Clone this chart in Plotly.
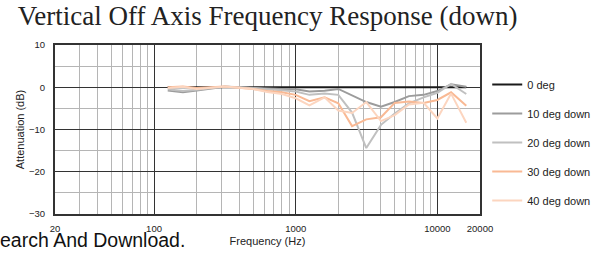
import plotly.graph_objects as go

# Data
freqs = [125, 160, 200, 250, 315, 400, 500, 630, 800, 1000, 1250, 1600,
         2000, 2500, 3150, 4000, 5000, 6300, 8000, 10000, 12500, 16000]
deg0 = [0.0] * len(freqs)
deg10 = [-0.8, -1.2, -0.8, -0.3, 0.1, 0.0, -0.2, -0.3, -0.4, -0.5, -1.0, -0.8,
         -0.4, -2.0, -3.5, -4.6, -3.5, -2.1, -1.8, -0.9, 0.7, 0.1]
deg20 = [-0.5, -0.9, -0.6, -0.2, 0.2, 0.0, -0.3, -0.5, -0.7, -1.0, -1.8, -1.5,
         -1.8, -6.0, -14.4, -8.9, -6.2, -3.8, -2.4, -1.3, 0.8, -1.6]
deg30 = [0.0, 0.2, -0.2, 0.0, 0.2, -0.1, -0.4, -0.9, -1.2, -1.8, -3.3, -2.4,
         -3.8, -9.2, -7.6, -7.1, -3.7, -3.4, -3.7, -3.0, -1.2, -4.4]
deg40 = [-0.2, 0.1, -0.4, -0.1, 0.2, -0.1, -0.4, -1.1, -1.6, -2.6, -4.3, -2.4,
         -5.5, -6.1, -3.5, -8.0, -6.6, -4.1, -3.7, -7.4, -1.5, -8.4]

series_names = ["0 deg", "10 deg down", "20 deg down", "30 deg down", "40 deg down"]
series_vals = [deg0, deg10, deg20, deg30, deg40]
series_colors = ["#1a1a1a", "#9c9c9c", "#c0c0c0", "#f9b994", "#fcd5bf"]

x_major = [20, 100, 1000, 10000, 20000]
x_major_labels = ["20", "100", "1000", "10000", "20000"]
x_minor = [30, 40, 50, 60, 70, 80, 90, 200, 300, 400, 500, 600, 700, 800, 900,
           2000, 3000, 4000, 5000, 6000, 7000, 8000, 9000]
y_major = [-30, -20, -10, 0, 10]
y_minor = [-25, -15, -5, 5]

fig = go.Figure()
for i in range(5):
    fig.add_trace(go.Scatter(
        x=freqs, y=series_vals[i], mode="lines", name=series_names[i],
        line=dict(color=series_colors[i], width=2),
        legendgroup=f"g{i}", legendrank=i + 1,
    ))

fig.update_layout(
    width=592, height=254,
    margin=dict(l=55, r=112, t=45, b=40, autoexpand=False),
    paper_bgcolor="white", plot_bgcolor="white",
    font=dict(family="Liberation Sans, Arial, sans-serif", color="#222"),
    title=dict(
        text="Vertical Off Axis Frequency Response (down)",
        font=dict(family="Liberation Serif, Times New Roman, serif", size=27, color="#222"),
        x=0.452, xanchor="center", y=0.937, yanchor="middle",
    ),
    showlegend=True,
    legend=dict(
        x=1.017, xanchor="left", y=0.852, yanchor="top",
        font=dict(size=11, color="#222"),
        traceorder="grouped", tracegroupgap=10,
        bgcolor="rgba(0,0,0,0)",
    ),
    xaxis=dict(
        type="log", range=[1.30103, 4.30103],
        tickvals=x_major, ticktext=x_major_labels,
        tickfont=dict(size=9.5, color="#222"),
        ticks="", ticklabelstandoff=5,
        showgrid=True, gridcolor="#333", gridwidth=1.3,
        minor=dict(tickvals=x_minor, showgrid=True, gridcolor="#b5b5b5", gridwidth=1),
        showline=True, mirror=True, linecolor="#333", linewidth=2,
        title=dict(text="Frequency (Hz)", font=dict(size=11, color="#222"), standoff=4),
        zeroline=False,
    ),
    yaxis=dict(
        range=[-30, 10],
        tickvals=y_major,
        tickfont=dict(size=9.5, color="#222"),
        ticks="", ticklabelstandoff=6,
        showgrid=True, gridcolor="#333", gridwidth=1.3,
        minor=dict(tickvals=y_minor, showgrid=True, gridcolor="#b5b5b5", gridwidth=1),
        showline=True, mirror=True, linecolor="#333", linewidth=2,
        title=dict(text="Attenuation (dB)", font=dict(size=11, color="#222"), standoff=2),
        zeroline=False,
    ),
    annotations=[dict(
        text="Search And Download.", xref="paper", yref="paper",
        x=0.3106, y=-0.154, xanchor="right", yanchor="middle",
        showarrow=False, font=dict(size=19.5, color="#111", family="Liberation Sans, Arial, sans-serif"),
    )],
)

fig.write_html("out.html", config={"displayModeBar": False},
               post_script="document.body.style.margin='0';document.body.style.overflow='hidden';")
